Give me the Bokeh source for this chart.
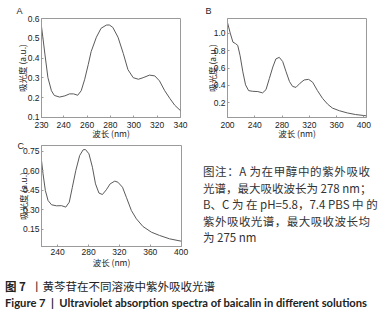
from bokeh.plotting import figure
from bokeh.models import FixedTicker, Div, Range1d, PrintfTickFormatter, Title
from bokeh.layouts import column, row
from bokeh.embed import file_html
from bokeh.resources import INLINE

# ---- Panel A: baicalin in methanol ----
a_wl = [221, 224, 226.5, 229.5, 232, 236.5, 241, 245, 248.5, 252, 255, 258, 261, 263.5,
        268, 272, 276.5, 279, 282, 286.5, 291, 295, 299.5, 304, 308, 313.5, 318, 322,
        326.5, 331, 335, 340]
a_abs = [0.560, 0.416, 0.301, 0.235, 0.211, 0.203, 0.209, 0.219, 0.219, 0.212, 0.235,
         0.293, 0.367, 0.433, 0.506, 0.551, 0.567, 0.568, 0.556, 0.506, 0.424, 0.342,
         0.301, 0.293, 0.301, 0.314, 0.310, 0.285, 0.235, 0.195, 0.162, 0.134]
a_xticks = [221, 240, 260, 280, 300, 320, 340]
a_xlabels = ["230", "240", "260", "280", "300", "320", "340"]
a_yticks = [0.1, 0.2, 0.3, 0.4, 0.5, 0.6]

# ---- Panel B: PBS pH 5.8 ----
b_wl = [200, 204, 208, 211.5, 215, 218.5, 222.5, 226.5, 231, 237, 244.5, 251.5, 256.5,
        261.5, 266.5, 271, 276, 281, 286, 291, 295.5, 300.5, 306.5, 312.5, 319, 325,
        332, 339.5, 347, 354, 364, 376, 388, 404]
b_abs = [1.12, 1.00, 0.896, 0.881, 0.859, 0.741, 0.556, 0.407, 0.341, 0.333, 0.330,
         0.315, 0.352, 0.481, 0.611, 0.704, 0.722, 0.674, 0.556, 0.444, 0.389, 0.378,
         0.426, 0.463, 0.470, 0.437, 0.341, 0.252, 0.185, 0.141, 0.111, 0.085, 0.067,
         0.052]
b_xticks = [200, 240, 280, 320, 360, 400]
b_yticks = [0.2, 0.4, 0.6, 0.8, 1.0]

# ---- Panel C: PBS pH 7.4 ----
c_wl = [219, 221, 224, 227.5, 232, 238.5, 245, 250.5, 255, 259, 263.5, 268.5, 273, 276,
        280.5, 285, 289, 293.5, 298, 303, 308, 314, 318, 324, 329, 335.5, 342, 350.5,
        361.5, 372, 385, 400]
c_abs = [0.681, 0.578, 0.450, 0.373, 0.340, 0.332, 0.333, 0.322, 0.360, 0.475, 0.604,
         0.719, 0.763, 0.765, 0.732, 0.629, 0.501, 0.430, 0.419, 0.455, 0.501, 0.522,
         0.514, 0.475, 0.398, 0.296, 0.232, 0.173, 0.129, 0.104, 0.078, 0.060]
c_xticks = [240, 280, 320, 360, 400]
c_yticks = [0.15, 0.30, 0.45, 0.60, 0.75]

x_title = "波长 (nm)"
y_title = "吸光度 (a.u.)"
note_lines = ["图注：A 为在甲醇中的紫外吸收",
              "光谱，最大吸收波长为 278 nm；",
              "B、C 为 在 pH=5.8，7.4 PBS 中 的",
              "紫外吸收光谱，最大吸收波长均",
              "为 275 nm"]
cap_cn_head = "图 7"
cap_cn = "黄芩苷在不同溶液中紫外吸收光谱"
cap_en = "Figure 7 &nbsp;|&nbsp; Ultraviolet absorption spectra of baicalin in different solutions"

FRAME = "#9a9a9a"
CURVE = "#5a5a5a"
TXT = "#222222"
CJK = "Noto Sans CJK SC"


def panel(w, h, xr, yr, borders, wl, ab, xticks, yticks, yfmt, letter, title_off,
          title_stand, xstand, ystand, xlabels=None):
    bl, br, bt, bb = borders
    p = figure(width=w, height=h, x_range=Range1d(*xr), y_range=Range1d(*yr),
               output_backend="svg", toolbar_location=None,
               min_border_left=bl, min_border_right=br, min_border_top=bt,
               min_border_bottom=bb, margin=0)
    p.line(wl, ab, line_color=CURVE, line_width=1)
    p.grid.visible = False
    p.outline_line_color = FRAME
    p.outline_line_width = 1
    p.background_fill_color = "white"
    p.border_fill_color = "white"
    for ax in (p.xaxis[0], p.yaxis[0]):
        ax.axis_line_color = FRAME
        ax.major_tick_line_color = FRAME
        ax.major_tick_in = 2
        ax.major_tick_out = 0
        ax.minor_tick_line_color = None
        ax.major_label_text_font = "Liberation Sans"
        ax.major_label_text_font_size = "8.5px"
        ax.major_label_text_color = TXT
        ax.axis_label_text_font = CJK
        ax.axis_label_text_font_size = "8.5px"
        ax.axis_label_text_font_style = "normal"
        ax.axis_label_text_color = TXT
    p.xaxis[0].ticker = FixedTicker(ticks=xticks)
    if xlabels is not None:
        p.xaxis[0].major_label_overrides = dict(zip(xticks, xlabels))
    p.yaxis[0].ticker = FixedTicker(ticks=yticks)
    p.yaxis[0].formatter = PrintfTickFormatter(format=yfmt)
    p.xaxis[0].axis_label = x_title
    p.yaxis[0].axis_label = y_title
    p.xaxis[0].major_label_standoff = xstand[0]
    p.xaxis[0].axis_label_standoff = xstand[1]
    p.yaxis[0].major_label_standoff = ystand[0]
    p.yaxis[0].axis_label_standoff = ystand[1]
    t = Title(text=letter, align="left", offset=title_off, standoff=title_stand,
              text_font="Liberation Sans", text_font_size="9px", text_font_style="normal",
              text_color=TXT)
    p.add_layout(t, "above")
    return p


pA = panel(190, 141, (221, 340), (0.0995, 0.6005), (41, 10, 16, 24), a_wl, a_abs,
           a_xticks, a_yticks, "%.1f", "A", -25, 6, (4, -4), (2, -3), xlabels=a_xlabels)
pB = panel(191, 141, (200, 404), (0.033, 1.167), (37, 15, 15, 24), b_wl, b_abs,
           b_xticks, b_yticks, "%.1f", "B", -22, 5, (4, -4), (2, -7))
pC = panel(190, 129, (219, 400.5), (0.019, 0.796), (41, 9, 4, 24), c_wl, c_abs,
           c_xticks, c_yticks, "%.2f", "C", -24, -10, (2, -2), (2, -9))

note_html = ("<div style=\"font-family:'%s';font-size:11.5px;line-height:16.5px;color:#333;"
             "padding:22px 0 0 13px;\">") % CJK
for i, ln in enumerate(note_lines):
    if i < len(note_lines) - 1:
        note_html += ("<div style='width:167px;white-space:nowrap;text-align:justify;"
                      "text-align-last:justify'>%s</div>") % ln
    else:
        note_html += "<div style='width:167px;white-space:nowrap'>%s</div>" % ln
note_html += "</div>"
note = Div(text=note_html, width=191, height=129, margin=0)

cap_html = ("<div style=\"color:#222;padding:8px 0 0 5px;\">"
            "<div style=\"font-family:'%s';font-size:11.5px;line-height:16px;white-space:nowrap;\">"
            "<b>%s</b>&nbsp;&nbsp;丨%s</div>"
            "<div style=\"font-family:'Lato';font-weight:bold;font-size:11.2px;line-height:18px;"
            "white-space:nowrap;\">%s</div></div>") % (CJK, cap_cn_head, cap_cn, cap_en)
cap = Div(text=cap_html, width=381, height=47, margin=0)

layout = column(row(pA, pB, margin=0), row(pC, note, margin=0), cap, margin=0)

open("out.html", "w").write(file_html(layout, INLINE))
